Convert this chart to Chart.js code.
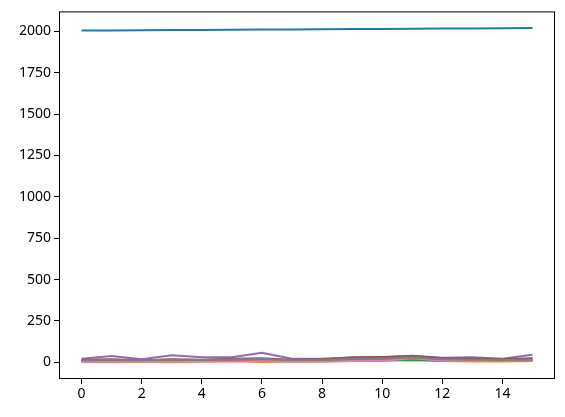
<!DOCTYPE html>
<html>
<head>
<meta charset="utf-8">
<script src="https://cdn.jsdelivr.net/npm/chart.js@4/dist/chart.umd.min.js"></script>
<style>
  html, body { margin: 0; padding: 0; background: #fff; }
</style>
</head>
<body>
<canvas id="chart" width="565" height="417"></canvas>
<script>
// x positions (row index) and the columns of the frame
const idx = [0, 1, 2, 3, 4, 5, 6, 7, 8, 9, 10, 11, 12, 13, 14, 15];
const year = [2005, 2006, 2007, 2008, 2009, 2010, 2011, 2012, 2013, 2014, 2015, 2016, 2017, 2018, 2019, 2020];
const colA = [8, 5, 3, 2, 5, 8, 2, 5, 5, 8, 10, 12, 8, 5, 5, 8];
const colB = [10, 10, 8, 10, 8, 10, 18, 8, 8, 12, 12, 15, 10, 10, 8, 10];
const colC = [5, 5, 8, 10, 8, 12, 15, 10, 12, 25, 25, 35, 20, 15, 15, 22];
const colD = [22, 38, 18, 42, 30, 30, 57, 22, 22, 28, 30, 40, 28, 30, 22, 45];
const colE = [15, 18, 12, 18, 15, 22, 25, 15, 18, 30, 32, 38, 25, 22, 18, 25];
const colF = [5, 5, 5, 5, 5, 5, 8, 5, 5, 8, 8, 25, 10, 8, 8, 10];
const colG = [12, 14, 12, 15, 14, 18, 20, 12, 14, 22, 22, 30, 18, 15, 14, 15];

const xTicks = [0, 2, 4, 6, 8, 10, 12, 14];
const yTicks = [0, 250, 500, 750, 1000, 1250, 1500, 1750, 2000];

const series = [year, colA, colB, colC, colD, colE, colF, colG];
const colors = ["#1f77b4", "#ff7f0e", "#2ca02c", "#d62728", "#9467bd", "#8c564b", "#e377c2", "#7f7f7f"];

const datasets = series.map((s, i) => ({
  data: s.map((v, j) => ({ x: idx[j], y: v })),
  borderColor: colors[i],
  borderWidth: 2,
  pointRadius: 0,
  tension: 0,
  fill: false,
  order: -i
}));

// frame around the plot area, like matplotlib spines
const frame = {
  id: "frame",
  afterDraw(chart) {
    const a = chart.chartArea;
    const c = chart.ctx;
    c.save();
    c.strokeStyle = "#000";
    c.lineWidth = 1;
    c.strokeRect(a.left + 0.5, a.top + 0.5, a.right - a.left - 1, a.bottom - a.top - 1);
    c.restore();
  }
};

const font = { family: "'Noto Sans', 'DejaVu Sans', sans-serif", size: 14 };

new Chart(document.getElementById("chart"), {
  type: "line",
  data: { datasets },
  plugins: [frame],
  options: {
    responsive: false,
    animation: false,
    layout: { padding: { top: 10, right: 10, left: 0, bottom: 0 } },
    plugins: { legend: { display: false }, tooltip: { enabled: false } },
    scales: {
      x: {
        type: "linear",
        min: -0.75,
        max: 15.75,
        afterBuildTicks: s => { s.ticks = xTicks.map(v => ({ value: v })); },
        afterFit: s => { s.height = 38; },
        grid: { drawOnChartArea: false, drawTicks: true, tickLength: 5, color: "#000" },
        border: { display: false },
        ticks: { color: "#000", font, padding: 2, maxRotation: 0, callback: v => String(v) }
      },
      y: {
        type: "linear",
        min: -101,
        max: 2121,
        afterBuildTicks: s => { s.ticks = yTicks.map(v => ({ value: v })); },
        afterFit: s => { s.width = 59; },
        grid: { drawOnChartArea: false, drawTicks: true, tickLength: 5, color: "#000" },
        border: { display: false },
        ticks: { color: "#000", font, padding: 3, callback: v => String(v) }
      }
    }
  }
});
</script>
</body>
</html>
